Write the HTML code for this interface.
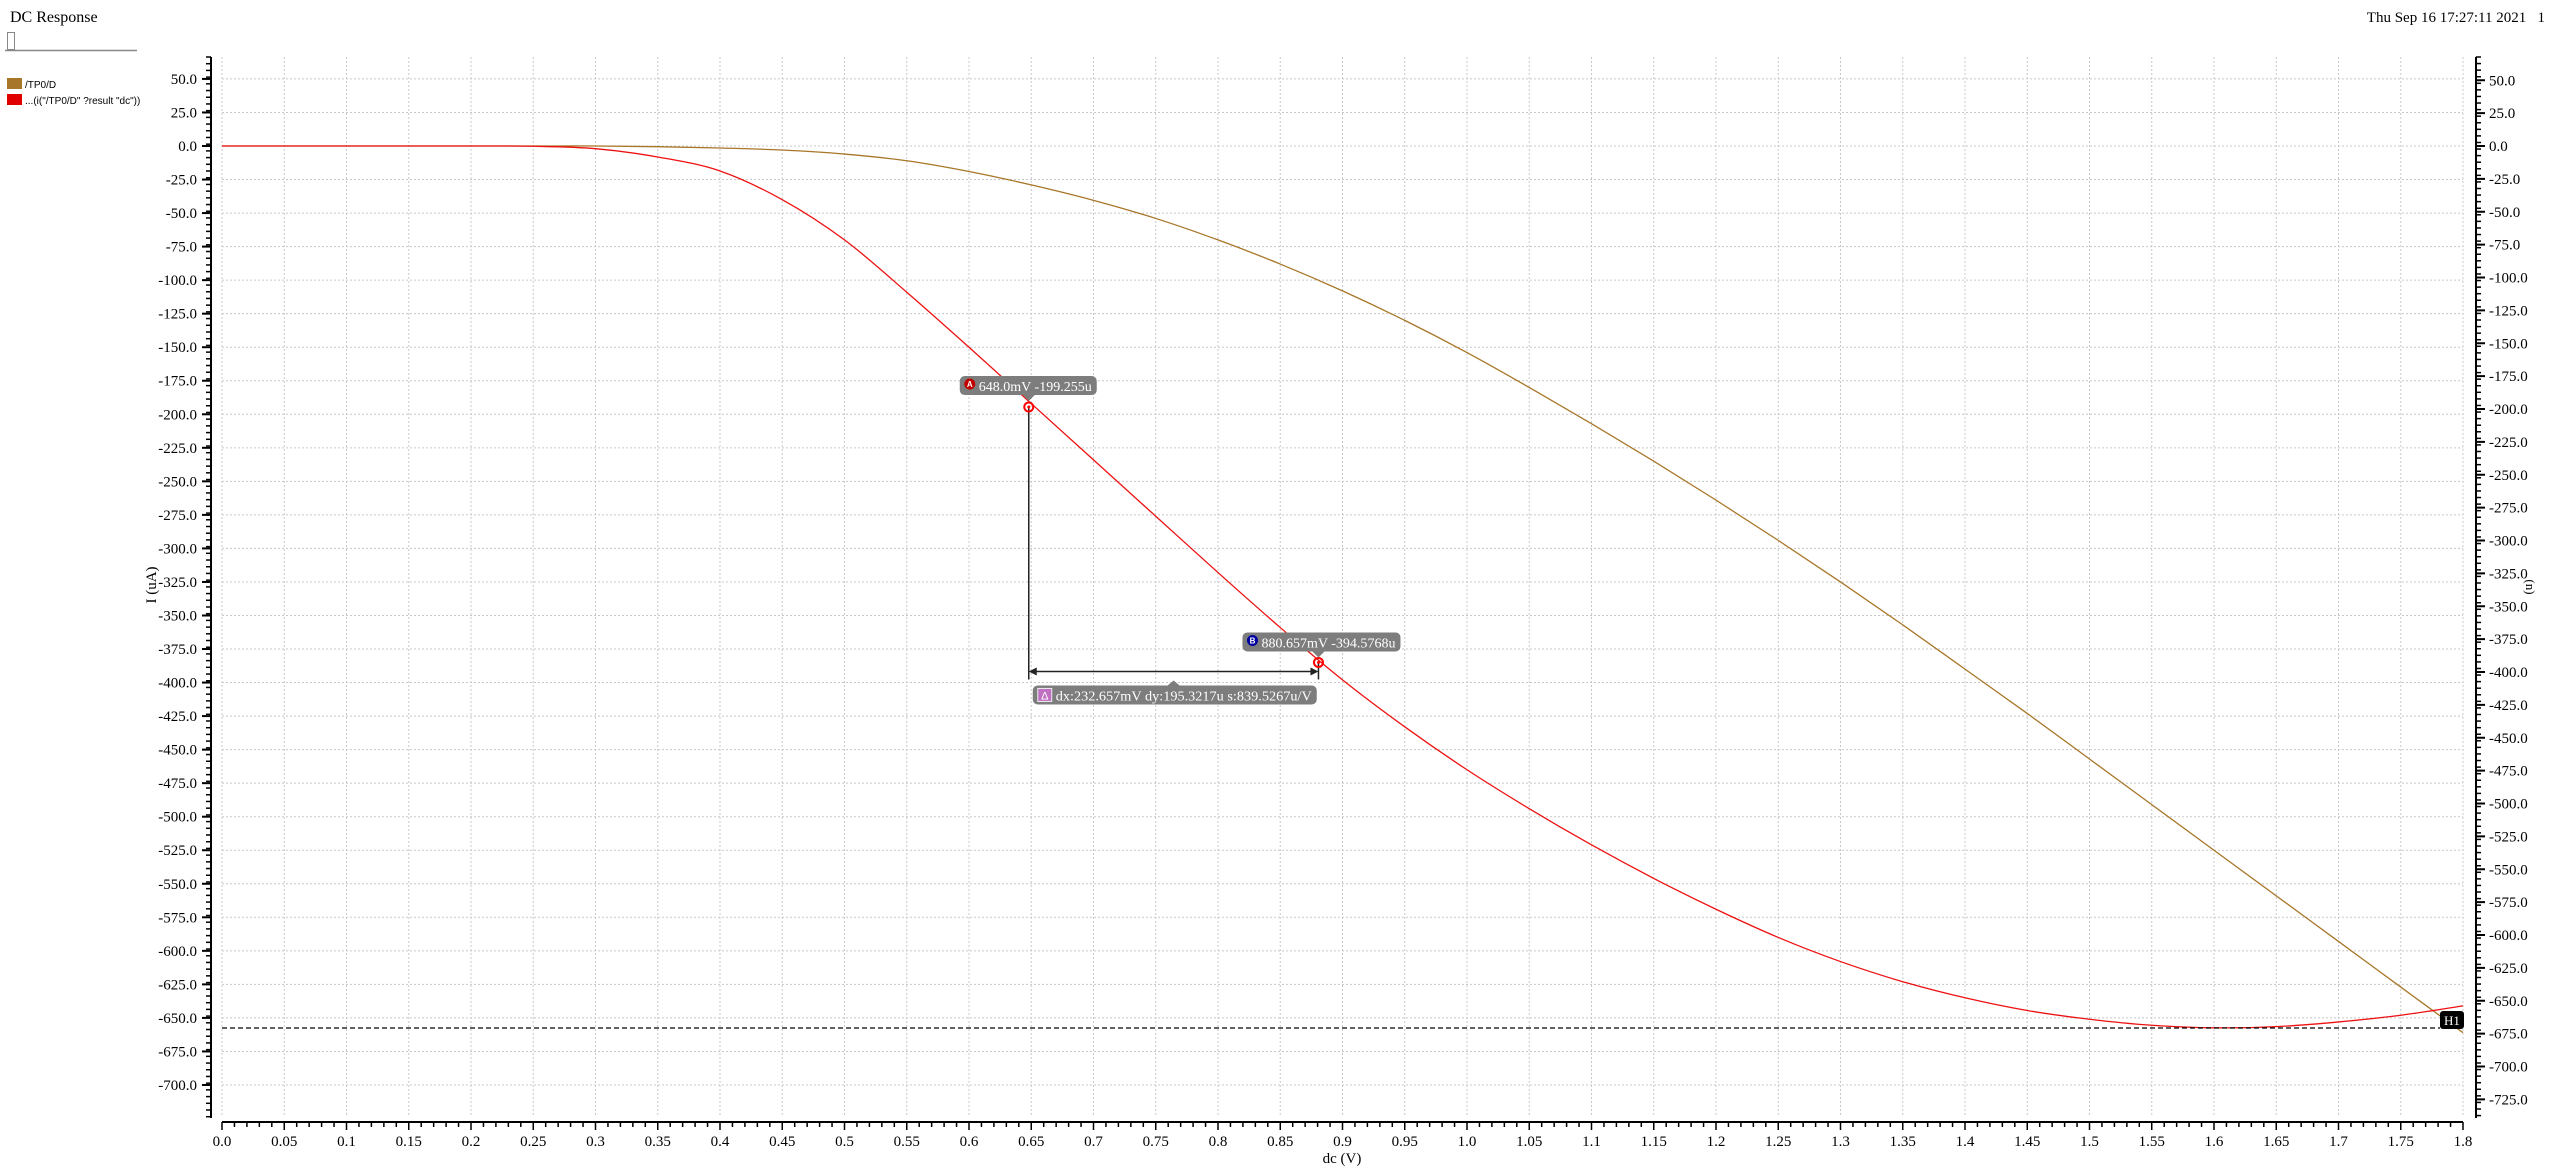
<!DOCTYPE html>
<html><head><meta charset="utf-8"><style>
html,body{margin:0;padding:0;background:#fff;width:2550px;height:1171px;overflow:hidden}
svg{display:block;font-family:"Liberation Serif",serif}
</style></head><body>
<svg id="c" width="2550" height="1171" viewBox="0 0 2550 1171">
<text x="10" y="22" font-size="16" fill="#000">DC Response</text>
<text x="2545" y="22" font-size="15" text-anchor="end" fill="#000" style="white-space:pre">Thu Sep 16 17:27:11 2021   1</text>
<rect x="7.5" y="32.5" width="7" height="17" fill="#fff" stroke="#888"/>
<line x1="5" y1="50.5" x2="137" y2="50.5" stroke="#888" stroke-width="1.5"/>
<g>
<rect x="7" y="78" width="15" height="11" fill="#a87628"/>
<text x="25" y="88" font-family="Liberation Sans,sans-serif" font-size="10">/TP0/D</text>
<rect x="7" y="94" width="15" height="11" fill="#e00000"/>
<text x="25" y="104" font-family="Liberation Sans,sans-serif" font-size="10">...(i("/TP0/D" ?result "dc"))</text>
</g>
<g id="grid"></g>
<g id="axes"></g>
<g id="series"></g>
<g id="ann"></g>
<text x="0" y="0" font-size="15" text-anchor="middle" transform="translate(156,585) rotate(-90)">I (uA)</text>
<text x="0" y="0" font-size="13" text-anchor="middle" transform="translate(2526,587) rotate(90)">(n)</text>
<text x="1342" y="1163" font-size="15" text-anchor="middle">dc (V)</text>
</svg>
<script>
const xs = [0,0.05,0.1,0.15,0.2,0.25,0.3,0.35,0.4,0.45,0.5,0.55,0.6,0.65,0.7,0.75,0.8,0.85,0.9,0.95,1.0,1.05,1.1,1.15,1.2,1.25,1.3,1.35,1.4,1.45,1.5,1.55,1.6,1.65,1.7,1.75,1.8];
const tp0d = [0,0,0,0,0,0,0,-0.5,-1.5,-3,-6,-11,-19,-29,-40.5,-54,-70,-88,-108,-130,-154,-180,-207,-235,-264,-294,-325,-357,-390,-423,-457,-491,-525,-559,-593,-627,-661];
const deriv = [0,0,0,0,0,-0.2,-2,-8.2,-18.6,-40,-70,-109,-150,-192,-234,-276,-318,-359,-398,-433,-465,-494,-521,-546,-569,-590,-608,-623,-635,-644.5,-651,-655.5,-657.4,-656.5,-653,-648,-641];
const xTickLabels = ["0.0","0.05","0.1","0.15","0.2","0.25","0.3","0.35","0.4","0.45","0.5","0.55","0.6","0.65","0.7","0.75","0.8","0.85","0.9","0.95","1.0","1.05","1.1","1.15","1.2","1.25","1.3","1.35","1.4","1.45","1.5","1.55","1.6","1.65","1.7","1.75","1.8"];
const leftTicks = [50,25,0,-25,-50,-75,-100,-125,-150,-175,-200,-225,-250,-275,-300,-325,-350,-375,-400,-425,-450,-475,-500,-525,-550,-575,-600,-625,-650,-675,-700];
const rightTicks = [50,25,0,-25,-50,-75,-100,-125,-150,-175,-200,-225,-250,-275,-300,-325,-350,-375,-400,-425,-450,-475,-500,-525,-550,-575,-600,-625,-650,-675,-700,-725];
const cursorA = [0.648,-194.6];
const cursorB = [0.8807,-385];
const hLineVal = -657.5;

const NS="http://www.w3.org/2000/svg";
const X0=222,X1=2463,Y0=146,KY=1.3414,KR=1.315,TOP=57,BOT=1118;
const sx=v=>X0+(v/1.8)*(X1-X0);
const sy=v=>Y0-v*KY;
const sr=v=>Y0-v*KR;
function mk(p,t,a){const e=document.createElementNS(NS,t);for(const k in a)e.setAttribute(k,a[k]);p.appendChild(e);return e;}
const grid=document.getElementById('grid'),axes=document.getElementById('axes'),ser=document.getElementById('series'),ann=document.getElementById('ann');

xTickLabels.forEach((l,i)=>{const x=sx(xs[i]);
 const g=mk(grid,'line',{x1:x,y1:TOP,x2:x,y2:1117,stroke:'#c8c8c8','stroke-dasharray':'2,2'});
 
 
});
leftTicks.forEach(v=>{const y=sy(v);
 const g=mk(grid,'line',{x1:X0,y1:y,x2:X1,y2:y,stroke:'#c8c8c8','stroke-dasharray':'2,2'});
 
 
});
mk(axes,'line',{x1:211,y1:TOP,x2:211,y2:BOT,stroke:'#000','stroke-width':2});
for(let y=TOP;y<=BOT;y+=KY*5){mk(axes,'line',{x1:206,y1:y,x2:211,y2:y,stroke:'#000','stroke-width':1.5});}
leftTicks.forEach(v=>{const y=sy(v);
 mk(axes,'line',{x1:202,y1:y,x2:211,y2:y,stroke:'#000','stroke-width':2});
 const t=mk(axes,'text',{x:197,y:y+5,'font-size':15,'text-anchor':'end'});t.textContent=v.toFixed(1);
 
 
});
mk(axes,'line',{x1:2476,y1:TOP,x2:2476,y2:BOT,stroke:'#000','stroke-width':2});
for(let y=TOP;y<=BOT;y+=KR*5){mk(axes,'line',{x1:2476,y1:y,x2:2481,y2:y,stroke:'#000','stroke-width':1.5});}
rightTicks.forEach(v=>{const y=sr(v);
 mk(axes,'line',{x1:2476,y1:y,x2:2485,y2:y,stroke:'#000','stroke-width':2});
 const t=mk(axes,'text',{x:2489,y:y+5,'font-size':15});t.textContent=v.toFixed(1);
 
 
});
mk(axes,'line',{x1:X0,y1:1122,x2:X1,y2:1122,stroke:'#000','stroke-width':2});
for(let i=0;i<=180;i++){const x=sx(i*0.01);mk(axes,'line',{x1:x,y1:1122,x2:x,y2:i%5==0?1130:1127,stroke:'#000','stroke-width':1.5});}
xTickLabels.forEach((l,i)=>{const t=mk(axes,'text',{x:sx(xs[i]),y:1146,'font-size':15,'text-anchor':'middle'});t.textContent=l;
 
 
});
function smooth(pts){let d='M'+pts[0][0]+','+pts[0][1];
 for(let i=0;i<pts.length-1;i++){const p0=pts[Math.max(0,i-1)],p1=pts[i],p2=pts[i+1],p3=pts[Math.min(pts.length-1,i+2)];
  const c1=[p1[0]+(p2[0]-p0[0])/6,p1[1]+(p2[1]-p0[1])/6],c2=[p2[0]-(p3[0]-p1[0])/6,p2[1]-(p3[1]-p1[1])/6];
  d+=` C${c1[0]},${c1[1]} ${c2[0]},${c2[1]} ${p2[0]},${p2[1]}`;}
 return d;}
const p1=mk(ser,'path',{d:smooth(xs.map((x,i)=>[sx(x),sy(tp0d[i])])),fill:'none',stroke:'#a87628','stroke-width':1.3});


const p2=mk(ser,'path',{d:smooth(xs.map((x,i)=>[sx(x),sy(deriv[i])])),fill:'none',stroke:'#ee1111','stroke-width':1.3});


const hy=sy(hLineVal);
const hl=mk(ann,'line',{x1:X0,y1:hy,x2:2440,y2:hy,stroke:'#000','stroke-dasharray':'5,3','stroke-width':1.2});


const hb=mk(ann,'rect',{x:2440,y:hy-17,width:24,height:18,rx:3,fill:'#000'});


const ht=mk(ann,'text',{x:2452,y:hy-3,'font-size':13,fill:'#fff','text-anchor':'middle'});ht.textContent='H1';
const ax=sx(cursorA[0]),ay=sy(cursorA[1]),bx=sx(cursorB[0]),by=sy(cursorB[1]);
mk(ann,'line',{x1:ax,y1:ay,x2:ax,y2:by+17,stroke:'#222','stroke-width':1.5});
mk(ann,'line',{x1:bx,y1:by,x2:bx,y2:by+17,stroke:'#222','stroke-width':1.5});
mk(ann,'line',{x1:ax+6,y1:by+9,x2:bx-6,y2:by+9,stroke:'#222','stroke-width':1.5});
mk(ann,'polygon',{points:`${ax},${by+9} ${ax+8},${by+5} ${ax+8},${by+13}`,fill:'#222'});
mk(ann,'polygon',{points:`${bx},${by+9} ${bx-8},${by+5} ${bx-8},${by+13}`,fill:'#222'});
function marker(x,y,name){const c=mk(ann,'circle',{cx:x,cy:y,r:4.5,fill:'none',stroke:'#f00','stroke-width':2});
 
 
 mk(ann,'circle',{cx:x,cy:y,r:1.5,fill:'#f00'});}
marker(ax,ay,'marker-a');marker(bx,by,'marker-b');
function label(x,y,w,txt,col,letter,name){
 const r=mk(ann,'rect',{x:x,y:y,width:w,height:19,rx:5,fill:'#7d7d7d'});
 
 
 mk(ann,'circle',{cx:x+10,cy:y+8,r:5.5,fill:col});
 const l=mk(ann,'text',{x:x+10,y:y+11,'font-size':8,fill:'#fff','text-anchor':'middle','font-family':'Liberation Sans,sans-serif','font-weight':'bold'});l.textContent=letter;
 const t=mk(ann,'text',{x:x+19,y:y+15,'font-size':14,fill:'#fff',textLength:w-24,lengthAdjust:'spacingAndGlyphs'});t.textContent=txt;}
label(ax-69,ay-31,137,'648.0mV -199.255u','#c00000','A','marker-a-label');
mk(ann,'polygon',{points:`${ax-6},${ay-12} ${ax+6},${ay-12} ${ax},${ay-6}`,fill:'#7d7d7d'});
label(bx-76,by-30,158,'880.657mV -394.5768u','#0000a0','B','marker-b-label');
mk(ann,'polygon',{points:`${bx-6},${by-11} ${bx+6},${by-11} ${bx},${by-5}`,fill:'#7d7d7d'});
const dy=by+23;
const dr=mk(ann,'rect',{x:ax+4,y:dy,width:284,height:19,rx:5,fill:'#7d7d7d'});


mk(ann,'polygon',{points:`${(ax+bx)/2-6},${dy} ${(ax+bx)/2+6},${dy} ${(ax+bx)/2},${dy-5}`,fill:'#7d7d7d'});
mk(ann,'rect',{x:ax+9,y:dy+3,width:14,height:13,fill:'#c070c0',stroke:'#eee','stroke-width':1});
const dl=mk(ann,'text',{x:ax+16,y:dy+14,'font-size':11,fill:'#fff','text-anchor':'middle','font-family':'Liberation Sans,sans-serif'});dl.textContent='Δ';
const dt=mk(ann,'text',{x:ax+27,y:dy+15,'font-size':14,fill:'#fff',textLength:256,lengthAdjust:'spacingAndGlyphs'});dt.textContent='dx:232.657mV dy:195.3217u s:839.5267u/V';
</script>
</body></html>
